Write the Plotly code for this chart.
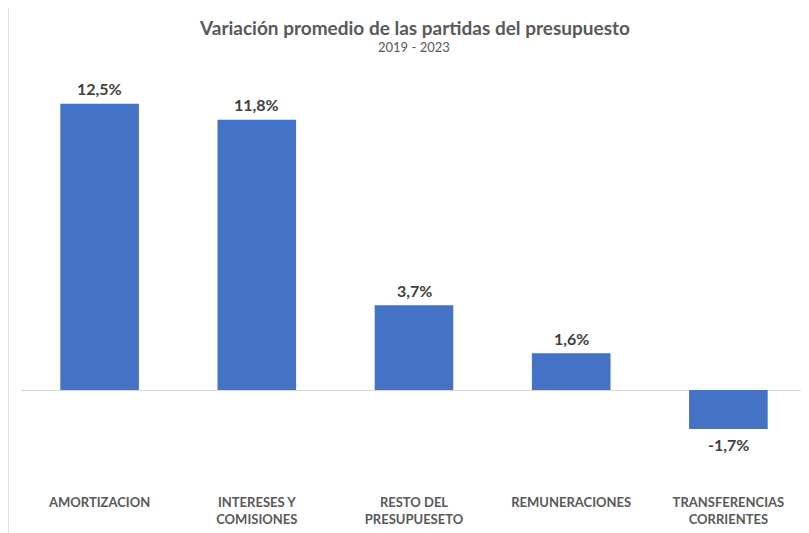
import plotly.graph_objects as go

categories = ["AMORTIZACION", "INTERESES Y<br>COMISIONES", "RESTO DEL<br>PRESUPUESETO",
              "REMUNERACIONES", "TRANSFERENCIAS<br>CORRIENTES"]
values = [12.5, 11.8, 3.7, 1.6, -1.7]
labels = [f"{v:.1f}%".replace(".", ",") for v in values]

FONT = "Lato"
OFF = 8  # page body margin offset
W, H = 809 - OFF, 533 - OFF
L, T = 21 - OFF, 80 - OFF
PLOT_RIGHT, PLOT_BOTTOM = 807 - OFF, 488 - OFF
R, B = W - PLOT_RIGHT, H - PLOT_BOTTOM
pw, ph = PLOT_RIGHT - L, PLOT_BOTTOM - T


def px(x):  # reference pixel x -> paper
    return (x - OFF - L) / pw


def py(y):  # reference pixel y -> paper
    return (PLOT_BOTTOM - (y - OFF)) / ph


fig = go.Figure(go.Bar(
    x=categories, y=values,
    marker=dict(color="#4472C4", line=dict(width=0)),
    width=0.5, cliponaxis=False, hoverinfo="x+y",
))

annotations = [
    dict(x=c, y=v, text=f"<b>{t}</b>", xref="x", yref="y", showarrow=False,
         xanchor="center", yanchor="middle", yshift=15 if v >= 0 else -16,
         font=dict(family=FONT, size=16, color="#404040"))
    for c, v, t in zip(categories, values, labels)
]
annotations += [
    dict(text="<b>Variación promedio de las partidas del presupuesto</b>", x=px(414), y=py(27),
         xref="paper", yref="paper", showarrow=False, xanchor="center", yanchor="middle",
         font=dict(family=FONT, size=19, color="#595959")),
    dict(text="2019 - 2023", x=px(414), y=py(47), xref="paper", yref="paper",
         showarrow=False, xanchor="center", yanchor="middle",
         font=dict(family=FONT, size=13, color="#595959")),
]

fig.update_layout(
    width=W, height=H, margin=dict(l=L, r=R, t=T, b=B, autoexpand=False),
    paper_bgcolor="white", plot_bgcolor="white",
    showlegend=False,
    xaxis=dict(showline=False, showgrid=False, ticks="", automargin=False,
               ticklabelstandoff=5,
               tickfont=dict(family=FONT, size=13, color="#595959", weight="bold")),
    yaxis=dict(range=[-4.28, 13.54], showgrid=False, showticklabels=False, automargin=False,
               zeroline=True, zerolinecolor="#D9D9D9", zerolinewidth=1, ticks=""),
    annotations=annotations,
    shapes=[
        dict(type="line", xref="paper", yref="paper", x0=px(8), x1=px(809), y0=py(5), y1=py(5),
             line=dict(color="#D9D9D9", width=1.5)),
        dict(type="line", xref="paper", yref="paper", x0=px(8), x1=px(8), y0=py(5), y1=py(533),
             line=dict(color="#D9D9D9", width=1.5)),
    ],
)

fig.write_html("out.html")
